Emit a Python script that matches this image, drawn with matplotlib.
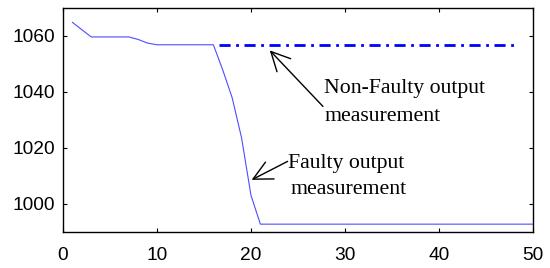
import numpy as np
import matplotlib
matplotlib.use("Agg")
import matplotlib.pyplot as plt

# faulty output measurement, samples 1..50
k = np.arange(1, 51)
faulty = [1064.7, 1062.1, 1059.5, 1059.5, 1059.5, 1059.5, 1059.5, 1058.6, 1057.3, 1056.7,
          1056.7, 1056.7, 1056.7, 1056.7, 1056.7, 1056.7, 1047.7, 1037.8, 1023.5, 1003.0,
          992.7, 992.7, 992.7, 992.7, 992.7, 992.7, 992.7, 992.7, 992.7, 992.7,
          992.7, 992.7, 992.7, 992.7, 992.7, 992.7, 992.7, 992.7, 992.7, 992.7,
          992.7, 992.7, 992.7, 992.7, 992.7, 992.7, 992.7, 992.7, 992.7, 992.7]

# non-faulty output measurement
k_nf = [16.6, 48.0]
nonfaulty = [1056.7, 1056.7]

fig = plt.figure(figsize=(5.5, 2.68), dpi=100)
ax = fig.add_axes([0.1145, 0.1354, 0.8545, 0.8366])

ax.plot(k, faulty, color=(0.3, 0.3, 1.0), linewidth=0.8)
ax.plot(k_nf, nonfaulty, color='blue', linewidth=2, dashes=(4, 2, 1, 2))

ax.set_xlim(0, 50)
ax.set_ylim(990, 1070)
ax.set_xticks([0, 10, 20, 30, 40, 50])
ax.set_yticks([1000, 1020, 1040, 1060])
ax.tick_params(direction='in', top=True, right=True, length=3.2, width=0.8,
               labelsize=13.8)
ax.tick_params(axis='x', pad=11)
ax.tick_params(axis='y', pad=5.5)
for lab in ax.get_xticklabels() + ax.get_yticklabels():
    lab.set_fontfamily('Liberation Sans')
for s in ax.spines.values():
    s.set_linewidth(1)

# arrows
arr = dict(arrowstyle='->', color='black', lw=1, mutation_scale=34, shrinkA=0, shrinkB=0)
ax.annotate('', xy=(22.0, 1054.7), xytext=(27.66, 1034.7), arrowprops=arr)
ax.annotate('', xy=(20.07, 1008.5), xytext=(23.9, 1015.1), arrowprops=arr)

# labels
tkw = dict(fontsize=15.7, family='Liberation Serif', va='baseline', ha='left')
ax.text(27.8, 1039.6, 'Non-Faulty output', **tkw)
ax.text(27.8, 1029.6, 'measurement', **tkw)
ax.text(23.97, 1012.6, 'Faulty output', **tkw)
ax.text(24.26, 1003.3, 'measurement', **tkw)

fig.savefig('out.png', dpi=100)
